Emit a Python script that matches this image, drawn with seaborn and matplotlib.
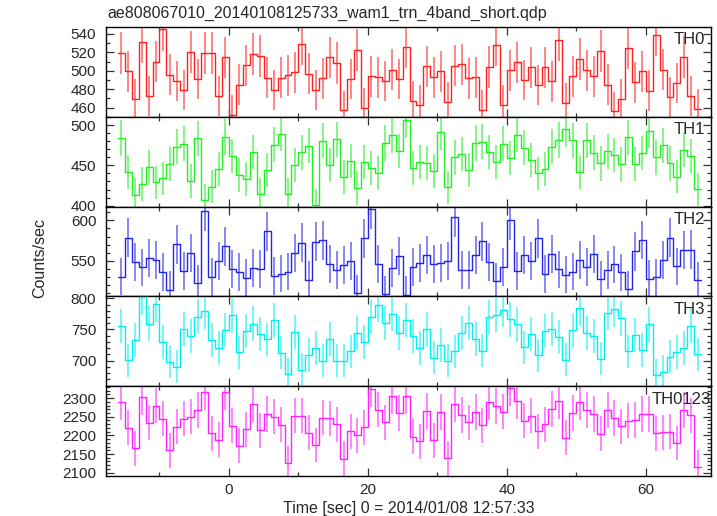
import numpy as np
import pandas as pd
import matplotlib
matplotlib.use("Agg")
import matplotlib.pyplot as plt
import seaborn as sns
from matplotlib.ticker import MultipleLocator

title = "ae808067010_20140108125733_wam1_trn_4band_short.qdp"
xlabel = "Time [sec] 0 = 2014/01/08 12:57:33"
ylabel = "Counts/sec"
band_names = ["TH0", "TH1", "TH2", "TH3", "TH0123"]
time_start = -16.0
bin_width = 1.0

th0 = [519.6, 499.3, 469.8, 531, 473, 510, 545, 495.6, 489, 479,
       520.7, 491, 519.3, 519.3, 472.7, 514.5, 452, 485, 505.8, 518,
       516, 492.4, 479.3, 492.4, 495.3, 498.2, 528.7, 497, 479.3, 491.6,
       514.5, 508.7, 457, 491, 523, 460, 493.8, 492.7, 489, 501,
       491, 525.5, 467, 463, 504.7, 492.7, 499.3, 465.8, 505.5, 507,
       491.6, 492.7, 457.5, 504, 527.6, 463, 500.4, 509, 490, 503.6,
       484.4, 503.6, 488.7, 533.8, 464.7, 493.8, 512.4, 500.4, 494.2, 521.5,
       485, 456, 469.5, 524.4, 487.6, 499.3, 478.5, 539.3, 501, 472,
       486.5, 515.3, 473, 459]
th1 = [484.2, 441.7, 413.8, 427, 448.3, 429, 433.8, 451.7, 473.3, 477,
       430.8, 483.8, 406.7, 423.3, 445.8, 485.4, 461.7, 438.3, 433.3, 466.7,
       414.6, 444.6, 475.8, 489.6, 414.6, 450, 466.3, 474.2, 400.8, 480.8,
       450.4, 482.5, 435.8, 455.4, 421.7, 454.2, 447, 440.4, 477.9, 487.9,
       468, 507, 446.7, 454.2, 452.9, 443.3, 491.2, 423, 460, 464.2,
       444.2, 477.9, 479.6, 466.7, 454.2, 476.7, 459.2, 488.3, 471.7, 456.7,
       440, 445.8, 473.3, 481.7, 495, 481.2, 441.2, 481.2, 465.8, 452.5,
       467.5, 462.9, 451.2, 485, 451.7, 465.4, 493.3, 460, 475, 452.5,
       436.2, 469.2, 461.7, 420.4]
th2 = [530.3, 578.7, 548.4, 541.8, 553.3, 550.8, 536, 514.3, 570.5, 537.7,
       559.8, 522.5, 611, 529.9, 550, 568, 540.2, 536, 529, 541,
       539.8, 586.5, 531.1, 534, 536.5, 559.4, 572.5, 526.6, 573.8, 575.4,
       545.9, 538.5, 544.7, 549.2, 510.2, 577.9, 613.5, 546.3, 508.6, 541.4,
       556.1, 508.2, 542.2, 547.5, 557.4, 546.3, 547.5, 549.6, 604.1, 538.9,
       538.9, 557, 574.2, 548.8, 524.6, 542.6, 600.8, 537.7, 557, 549.6,
       577.9, 533.6, 558.6, 539.3, 532.8, 536.5, 550.8, 542.6, 558.6, 527,
       538.9, 545.5, 535.7, 514.8, 561.5, 575.8, 527.5, 529.5, 550.8, 578.7,
       543, 563.5, 563.9, 526.2]
th3 = [755.9, 700.9, 733, 802, 759.4, 790.2, 729.6, 698, 690.2, 750.7,
       739.3, 770.7, 779, 733.1, 720.3, 748.9, 772.6, 713.3, 747.9, 759.3,
       742.9, 734, 764.4, 713, 678.6, 745.4, 685.5, 709.2, 720, 700,
       735, 700, 700, 715, 745, 730, 770, 790, 760, 775,
       745, 765, 740, 720, 750, 705, 725, 700, 715, 745,
       760, 735, 716.1, 769.9, 773.2, 781.4, 766.1, 758, 721.1, 743.1,
       708.3, 747, 750.2, 738.2, 701.3, 748.4, 784, 743.8, 738.9, 703.4,
       776.6, 782.6, 767.6, 714.8, 740.8, 717, 758.2, 677.2, 682.2, 706.5,
       713.8, 720, 755.4, 710.4]
th0123 = [2290, 2220.6, 2165, 2302, 2234, 2280, 2244.4, 2159.6, 2223, 2244.4,
          2250.6, 2268, 2316, 2205.6, 2188.8, 2316.8, 2226.5, 2172.6, 2216, 2285,
          2213.3, 2257.5, 2250.6, 2229, 2125, 2253, 2253, 2207, 2173.9, 2247.8,
          2245.8, 2229.7, 2137.5, 2210.6, 2199.9, 2222.1, 2324.3, 2269.4, 2235.5, 2305.3,
          2260.1, 2305.7, 2195.9, 2184.7, 2265, 2187.3, 2263, 2138.4, 2284.6, 2255.1,
          2234.7, 2262.6, 2227.4, 2289.4, 2279.6, 2263.7, 2326.5, 2293, 2239.8, 2253,
          2210.6, 2230, 2270.8, 2293, 2193.8, 2260, 2288.5, 2268, 2257.5, 2204.4,
          2268, 2247, 2224, 2239, 2241.6, 2257.5, 2257.5, 2206, 2209, 2209.7,
          2179.6, 2268, 2254, 2116]

series = [th0, th1, th2, th3, th0123]
colors = ["#ff2020", "#22ee22", "#2424e6", "#00f0f0", "#ff22ff"]
ylims = [(450, 547.5), (398.8, 510.4), (506, 617), (659, 803), (2091, 2332)]
ymajor = [20, 50, 50, 50, 50]
yminor = [10, 10, 10, 10, 10]

sns.set_style("ticks")
plt.rcParams["font.family"] = ["Liberation Sans", "DejaVu Sans"]

fig, axes = plt.subplots(5, 1, sharex=True, figsize=(7.17, 5.16), dpi=100)
fig.subplots_adjust(left=106/717, right=711/717, top=1-27/516, bottom=1-476/516, hspace=0)

for ax, vals, name, c, yl, ma, mi in zip(axes, series, band_names, colors, ylims, ymajor, yminor):
    vals = np.asarray(vals, dtype=float)
    n = len(vals)
    edges = time_start + np.arange(n + 1) * bin_width
    centers = edges[:-1] + bin_width / 2
    df = pd.DataFrame({"t": edges, "rate": np.append(vals, vals[-1])})
    ax.errorbar(centers, vals, yerr=np.sqrt(vals), fmt="none", ecolor=c,
                alpha=0.55, elinewidth=1.4, capsize=0, zorder=2)
    sns.lineplot(data=df, x="t", y="rate", drawstyle="steps-post", color=c,
                 linewidth=1.0, ax=ax, zorder=3)
    ax.set_xlabel("")
    ax.set_ylabel("")
    ax.set_ylim(*yl)
    ax.set_xlim(-17.7, 69.4)
    ax.yaxis.set_major_locator(MultipleLocator(ma))
    ax.yaxis.set_minor_locator(MultipleLocator(mi))
    ax.xaxis.set_major_locator(MultipleLocator(20))
    ax.xaxis.set_minor_locator(MultipleLocator(10))
    ax.tick_params(which="both", direction="in", top=True, right=True,
                   labelsize=11, color="#333333", width=0.9)
    ax.tick_params(which="major", length=5.5, pad=7)
    ax.tick_params(which="minor", length=3)
    for sp in ax.spines.values():
        sp.set_color("black")
        sp.set_linewidth(1.0)
    xt = 1.0 if name == "TH0123" else 0.99
    ax.text(xt, 0.94, name, transform=ax.transAxes, ha="right", va="top", fontsize=12)

axes[-1].tick_params(axis="x", labelsize=11, pad=5)
fig.text(107/717, 1-13/516, title, ha="left", va="center", fontsize=11.5)
fig.text(40/717, 0.5, ylabel, rotation=90, ha="center", va="center", fontsize=11.5)
fig.text(409/717, 1-508/516, xlabel, ha="center", va="center", fontsize=11.5)

fig.savefig("out.png", dpi=100)
